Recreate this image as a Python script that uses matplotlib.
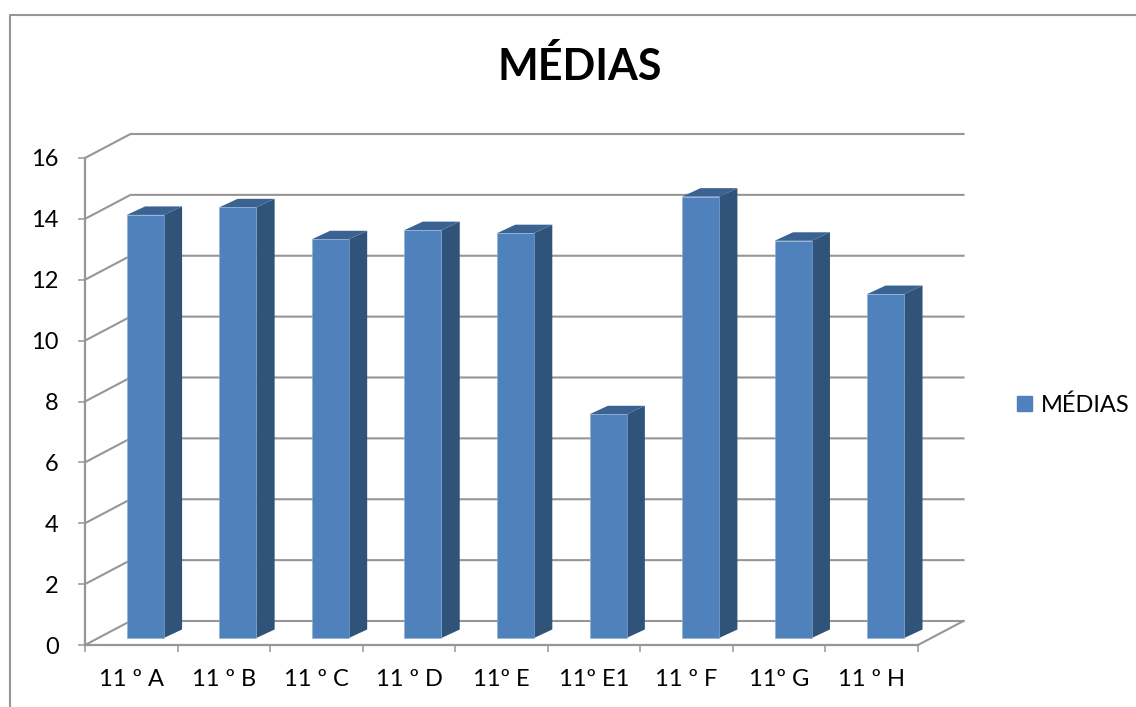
# bar chart of class averages with the old excel 3d look

import matplotlib
matplotlib.use("Agg")
import matplotlib.pyplot as plt
from matplotlib.lines import Line2D
from matplotlib.patches import Patch

categories = ["11 º A", "11 º B", "11 º C", "11 º D", "11º E", "11º E1", "11 º F", "11º G", "11 º H"]
medias = [13.9, 14.15, 13.1, 13.4, 13.3, 7.35, 14.5, 13.05, 11.3]
y_ticks = [0, 2, 4, 6, 8, 10, 12, 14, 16]

W, H = 1136, 707
GRID = "#969696"
FONT = 17

plt.rcParams["font.family"] = ["Lato", "DejaVu Sans"]

fig = plt.figure(figsize=(W / 100, H / 100), dpi=100)
# axes box is the front plane of the 3d plot
ax = fig.add_axes([85 / W, 1 - 645 / H, 833 / W, 487 / H])
ax.set_xlim(0, len(categories))
ax.set_ylim(0, 16)
ax.patch.set_alpha(0)

# pixels to data units
px_x = len(categories) / 833
px_y = 16 / 487
wall_dx = 45.5 * px_x
wall_dy = 24 * px_y

# walls and floor
for t in y_ticks:
    ax.plot([0, wall_dx, len(categories) + wall_dx], [t, t + wall_dy, t + wall_dy],
            color=GRID, lw=1.5, clip_on=False, zorder=1, solid_joinstyle="miter")
ax.plot([len(categories), len(categories) + wall_dx], [0, wall_dy], color=GRID, lw=1.5, clip_on=False, zorder=1)

# bars
bar_w = 37 * px_x
front = 14 * px_x
base = 7 * px_y
side_dx = 18.3 * px_x
side_dy = 8.5 * px_y
xs = [i + 0.5 + front for i in range(len(categories))]
ax.bar(xs, medias, width=bar_w, bottom=base, color="#4F81BD", edgecolor="#8DADD4", lw=0.4, zorder=3, clip_on=False)
for x, v in zip(xs, medias):
    r = x + bar_w / 2
    l = x - bar_w / 2
    top = v + base
    ax.fill([r, r + side_dx, r + side_dx, r], [base, base + side_dy, top + side_dy, top],
            color="#305379", lw=0, zorder=2, clip_on=False)
    ax.fill([l, l + side_dx, r + side_dx, r], [top, top + side_dy, top + side_dy, top],
            color="#3A6391", lw=0, zorder=2, clip_on=False)

# axes
for s in ["top", "right"]:
    ax.spines[s].set_visible(False)
for s in ["left", "bottom"]:
    ax.spines[s].set_color(GRID)
    ax.spines[s].set_linewidth(1.6)
ax.set_yticks(y_ticks)
ax.set_xticks(range(len(categories) + 1))
ax.set_xticklabels([])
ax.tick_params(axis="both", color=GRID, length=5, width=1.1, labelsize=FONT, labelcolor="black")
ax.tick_params(axis="y", pad=14)
for i, c in enumerate(categories):
    ax.text(i + 0.5, -35 * px_y, c, ha="center", va="center", fontsize=FONT, color="black", clip_on=False)

fig.text(580 / W, 1 - 67 / H, "MÉDIAS", ha="center", va="center", fontsize=31, fontweight="bold", color="black")

ax.legend(handles=[Patch(color="#4F81BD", label="MÉDIAS")], loc="center left",
          bbox_to_anchor=(1017 / W, 1 - 405 / H), bbox_transform=fig.transFigure,
          frameon=False, fontsize=FONT, borderpad=0, borderaxespad=0,
          handlelength=0.63, handleheight=0.63, handletextpad=0.4)

# chart border
fig.add_artist(Line2D([9.5 / W, 9.5 / W, 1], [0, 1 - 14.5 / H, 1 - 14.5 / H], color=GRID, lw=1.5))

fig.savefig("out.png", dpi=100)
